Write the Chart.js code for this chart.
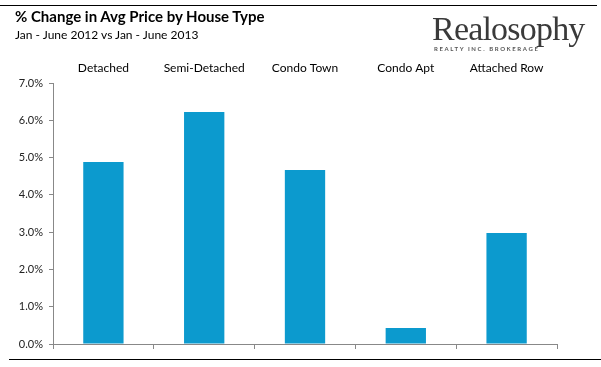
<!DOCTYPE html>
<html><head><meta charset="utf-8">
<script src="https://cdn.jsdelivr.net/npm/chart.js@4"></script>
<style>
html,body{margin:0;padding:0;background:#fff;width:601px;height:367px;overflow:hidden;font-family:Lato,"Open Sans",sans-serif;}
#wrap{position:relative;width:601px;height:367px;}
canvas{position:absolute;left:0;top:0;}
.t{position:absolute;white-space:nowrap;color:#000;}
#title{left:15px;top:7px;font-weight:bold;font-size:15px;}
#sub{left:15px;top:27px;font-size:12px;}
#logo{left:432px;top:10px;font-family:"Liberation Serif",serif;font-size:34px;color:#3a3a3a;letter-spacing:-0.8px;}
#logo2{left:434px;top:45px;font-size:6px;font-weight:bold;color:#555;letter-spacing:1.6px;}
#l1{position:absolute;left:0;top:5px;width:597px;height:1px;background:#000;}
#l2{position:absolute;left:9px;top:359px;width:592px;height:1px;background:#000;}
</style></head>
<body><div id="wrap">
<canvas id="c" width="601" height="367"></canvas>
<div id="l1"></div><div id="l2"></div>
<div class="t" id="title">% Change in Avg Price by House Type</div>
<div class="t" id="sub">Jan - June 2012 vs Jan - June 2013</div>
<div class="t" id="logo">Realosophy</div>
<div class="t" id="logo2">REALTY INC. BROKERAGE</div>
</div>
<script>
const categories = ["Detached","Semi-Detached","Condo Town","Condo Apt","Attached Row"];
const pctChange = [4.88, 6.22, 4.67, 0.43, 2.98];
const yTicks = [0,1,2,3,4,5,6,7];

new Chart(document.getElementById('c'), {
  type: 'bar',
  data: { labels: categories, datasets: [{ data: pctChange, backgroundColor: '#0C9ACE', categoryPercentage: 1, barPercentage: 0.4 }] },
  options: {
    responsive: false, animation: false, devicePixelRatio: 1,
    layout: { padding: { left: 0, right: 44, top: 0, bottom: 0 } },
    plugins: { legend: { display: false }, tooltip: { enabled: false } },
    scales: {
      x: {
        position: 'bottom', offset: true,
        grid: { offset: true, drawOnChartArea: false, drawTicks: true, tickLength: 5, color: '#888' },
        border: { color: '#888' },
        ticks: { callback: () => '', font: { size: 1 } },
        afterFit: s => { s.height = 23; }
      },
      x2: {
        position: 'top', type: 'category', labels: categories, offset: true,
        grid: { display: false }, border: { display: false },
        ticks: { color: '#000', font: { family: 'Lato', size: 12 }, padding: 0, maxRotation: 0, autoSkip: false },
        afterFit: s => { s.height = 83; }
      },
      y: {
        min: 0, max: 7,
        afterBuildTicks: s => { s.ticks = yTicks.map(v => ({ value: v })); },
        grid: { drawOnChartArea: false, drawTicks: true, tickLength: 4, color: '#888' },
        border: { color: '#888' },
        ticks: { color: '#222', font: { family: 'Lato', size: 11 }, padding: 6, callback: v => v.toFixed(1) + '%' },
        afterFit: s => { s.width = 53; }
      }
    }
  }
});
</script>
</body></html>
